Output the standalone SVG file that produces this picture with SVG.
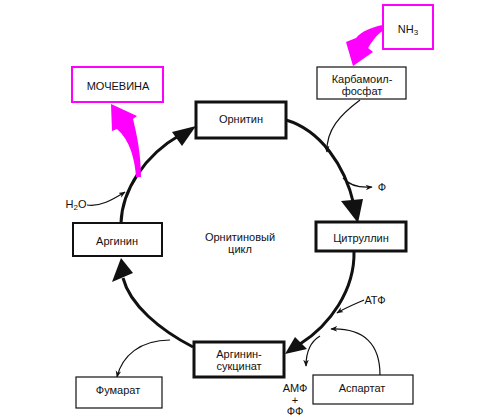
<svg xmlns="http://www.w3.org/2000/svg" width="500" height="420" viewBox="0 0 500 420">
<defs>
<style>
text{font-family:"Liberation Sans",Arial,sans-serif;font-size:11px;fill:#111;text-anchor:middle}
.box{fill:#fff;stroke:#111}
.thick{stroke-width:3}
.mid{stroke-width:2}
.thin{stroke-width:1.2}
.mag{fill:#fff;stroke:#f0f;stroke-width:2}
.cyc{fill:none;stroke:#111;stroke-width:3}
.side{fill:none;stroke:#111;stroke-width:1.2}
.head{fill:#111}
.mfill{fill:#f0f}
</style>
<marker id="sa" viewBox="0 0 10 10" refX="9" refY="5" markerWidth="7" markerHeight="7" orient="auto" markerUnits="userSpaceOnUse">
<path d="M0,1 L10,5 L0,9 L3,5 Z" fill="#111"/>
</marker>
</defs>
<rect width="500" height="420" fill="#fff"/>
<g id="connectors">
<path class="cyc" d="M121,223 C122,190 145,155 180,135"/>
<polygon class="head" points="196,126 172,132 182,146"/>
<path class="cyc" d="M286,120 C320,130 345,165 354,205"/>
<polygon class="head" points="358,223 341,201 363,199"/>
<path class="cyc" d="M354,251 C355,290 330,325 300,344"/>
<polygon class="head" points="285,354 295,337 307,349"/>
<path class="cyc" d="M193,347 C160,330 130,305 123,278"/>
<polygon class="head" points="121,258 112,282 133,273"/>
<path class="side" d="M87,205 C100,207 112,200 125,192" marker-end="url(#sa)"/>
<path class="side" d="M360,100 C340,115 326,130 327,152" marker-end="url(#sa)"/>
<path class="side" d="M343,178 C350,186 360,188 372,187" marker-end="url(#sa)"/>
<path class="side" d="M364,300 C355,304 345,308 337,313" marker-end="url(#sa)"/>
<path class="side" d="M380,375 C380,345 365,328 331,329" marker-end="url(#sa)"/>
<path class="side" d="M320,336 C310,342 306,352 306,366" marker-end="url(#sa)"/>
<path class="side" d="M170,340 C140,340 122,356 117,377" marker-end="url(#sa)"/>
<path class="mfill" d="M383,25 C372,27 362,31 356,38 L346,42 L353,66 L373,52 L368,48 C373,40 378,33 383,31 Z"/>
<path class="mfill" d="M111,104 L137,116 L133,119 C137,135 141,155 141,177 L136,177 C135,160 130,140 117,129 L112,131 Z"/>
</g>
<g id="nh3"><rect class="mag" x="383" y="5" width="50" height="44"/><text x="408" y="33">NH<tspan font-size="8" dy="2">3</tspan></text></g>
<g id="karbamoil"><rect class="box thin" x="317" y="67" width="89" height="32"/><text x="362" y="83">Карбамоил-</text><text x="362" y="95">фосфат</text></g>
<g id="mochevina"><rect class="mag" x="72" y="67" width="91" height="35"/><text x="118" y="90">МОЧЕВИНА</text></g>
<g id="ornitin"><rect class="box thick" x="196" y="102" width="90" height="36"/><text x="241" y="123">Орнитин</text></g>
<g id="arginin"><rect class="box mid" x="73" y="223" width="89" height="33"/><text x="117" y="245">Аргинин</text></g>
<g id="citrullin"><rect class="box thick" x="316" y="222" width="90" height="29"/><text x="361" y="242">Цитруллин</text></g>
<g id="cycle-label"><text x="240" y="241">Орнитиновый</text><text x="240" y="253">цикл</text></g>
<g id="arginosuccinat"><rect class="box thick" x="194" y="342" width="90" height="35"/><text x="239" y="358">Аргинин-</text><text x="239" y="370">сукцинат</text></g>
<g id="aspartat"><rect class="box thin" x="313" y="375" width="100" height="29"/><text x="362" y="392">Аспартат</text></g>
<g id="fumarat"><rect class="box thin" x="76" y="377" width="86" height="31"/><text x="118" y="394">Фумарат</text></g>
<g id="labels">
<text x="76" y="208">H<tspan font-size="8" dy="2">2</tspan><tspan dy="-2">O</tspan></text>
<text x="382" y="191">Ф</text>
<text x="375" y="304">АТФ</text>
<text x="295" y="392">АМФ</text>
<text x="295" y="404">+</text>
<text x="295" y="415">ФФ</text>
</g>
</svg>
